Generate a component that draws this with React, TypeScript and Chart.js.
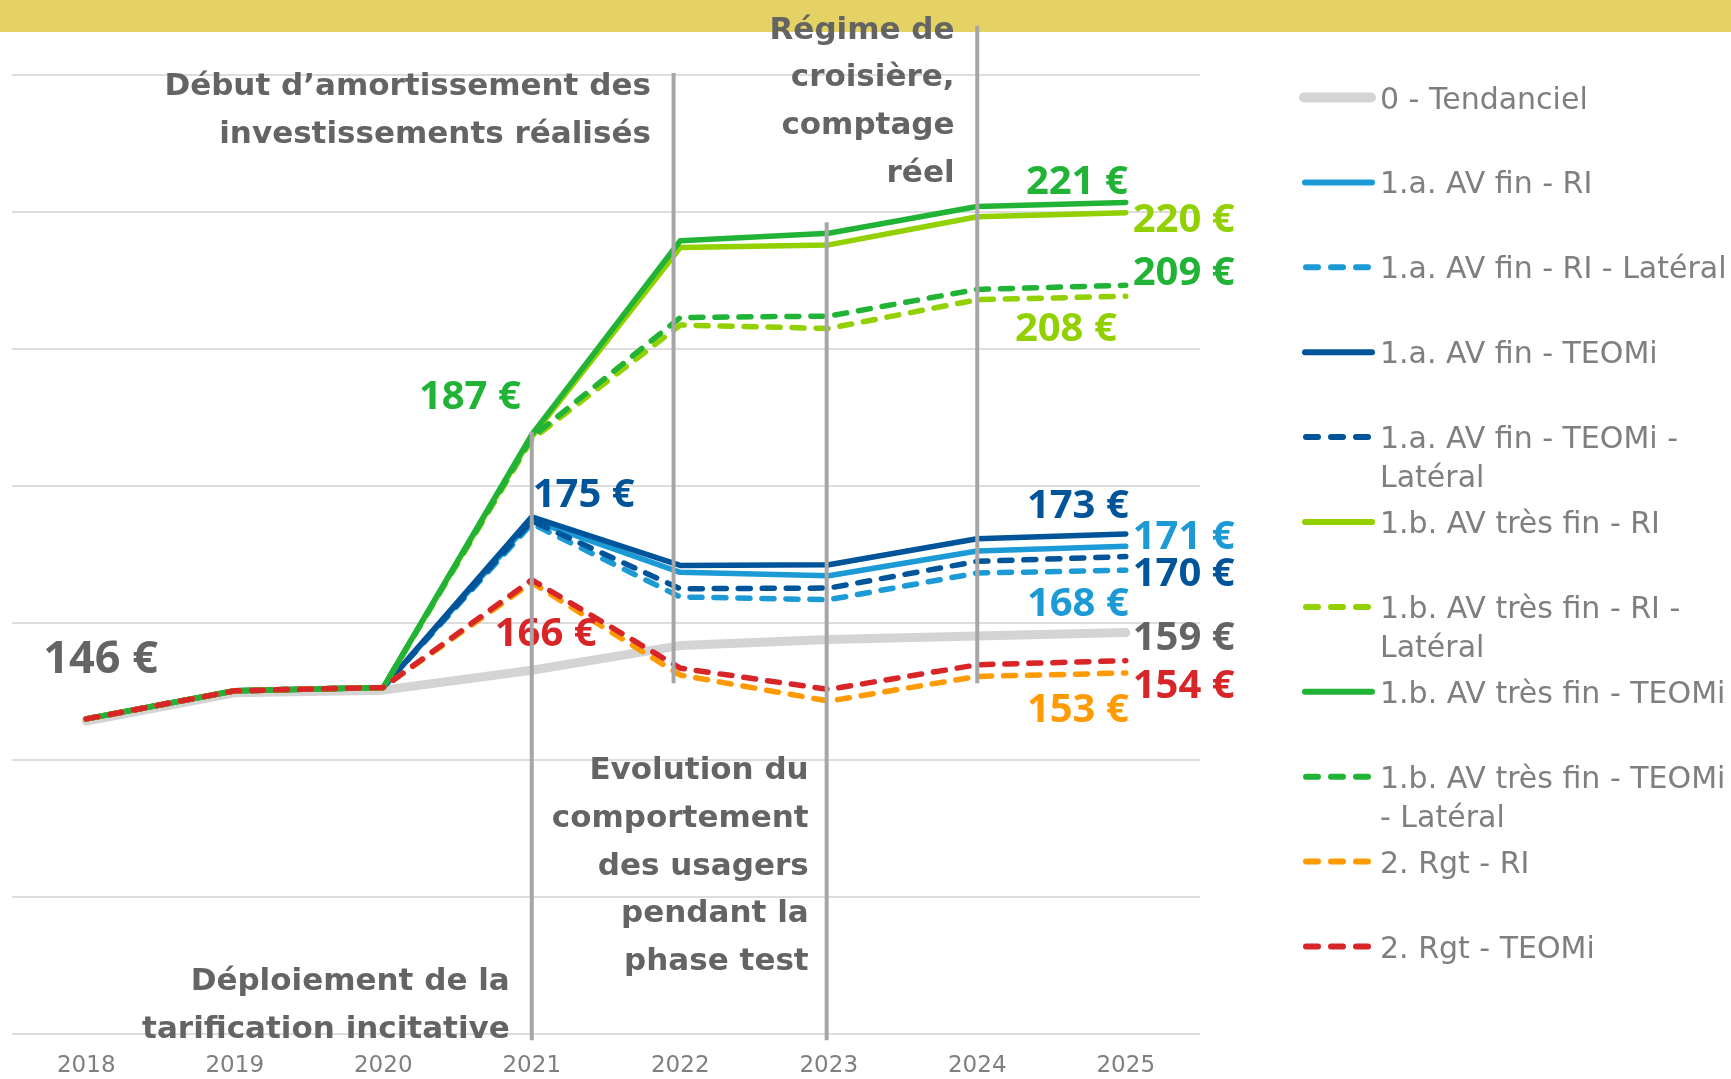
import React, { useEffect, useRef } from 'react';
import { Chart, registerables } from 'chart.js';

Chart.register(...registerables);

// ---------- DATA ----------
const years = ['2018', '2019', '2020', '2021', '2022', '2023', '2024', '2025'];

const tendanciel = [145.7, 149.8, 150.2, 153.1, 156.7, 157.6, 158.1, 158.6];
const avFinRI = [146, 150.1, 150.6, 175.0, 167.4, 166.9, 170.5, 171.2];
const avFinRILat = [146, 150.1, 150.6, 174.5, 163.8, 163.4, 167.3, 167.7];
const avFinTEOMi = [146, 150.1, 150.6, 175.5, 168.4, 168.5, 172.3, 173.0];
const avFinTEOMiLat = [146, 150.1, 150.6, 174.9, 165.0, 165.1, 169.0, 169.7];
const avTresFinRI = [146, 150.1, 150.6, 187.2, 214.8, 215.2, 219.3, 219.9];
const avTresFinRILat = [146, 150.1, 150.6, 186.8, 203.5, 203.0, 207.2, 207.7];
const avTresFinTEOMi = [146, 150.1, 150.6, 187.5, 215.8, 216.9, 220.8, 221.4];
const avTresFinTEOMiLat = [146, 150.1, 150.6, 187.1, 204.6, 204.8, 208.7, 209.3];
const rgtRI = [146, 150.1, 150.6, 165.9, 152.4, 148.6, 152.2, 152.7];
const rgtTEOMi = [146, 150.1, 150.6, 166.3, 153.4, 150.3, 153.9, 154.5];

const seriesData = [
  tendanciel, avFinRI, avFinRILat, avFinTEOMi, avFinTEOMiLat,
  avTresFinRI, avTresFinRILat, avTresFinTEOMi, avTresFinTEOMiLat, rgtRI, rgtTEOMi,
];
const seriesNames = [
  '0 - Tendanciel',
  '1.a. AV fin - RI',
  '1.a. AV fin - RI - Latéral',
  '1.a. AV fin - TEOMi',
  '1.a. AV fin - TEOMi - Latéral',
  '1.b. AV très fin - RI',
  '1.b. AV très fin - RI - Latéral',
  '1.b. AV très fin - TEOMi',
  '1.b. AV très fin - TEOMi - Latéral',
  '2. Rgt - RI',
  '2. Rgt - TEOMi',
];
// legend text as wrapped in the reference
const legendLines = [
  ['0 - Tendanciel'],
  ['1.a. AV fin - RI'],
  ['1.a. AV fin - RI - Latéral'],
  ['1.a. AV fin - TEOMi'],
  ['1.a. AV fin - TEOMi -', 'Latéral'],
  ['1.b. AV très fin - RI'],
  ['1.b. AV très fin - RI -', 'Latéral'],
  ['1.b. AV très fin - TEOMi'],
  ['1.b. AV très fin - TEOMi', '- Latéral'],
  ['2. Rgt - RI'],
  ['2. Rgt - TEOMi'],
];
const seriesColors = [
  '#D4D4D4', '#1B9AD6', '#1B9AD6', '#00549A', '#00549A',
  '#92D000', '#92D000', '#20B335', '#20B335', '#FF9A00', '#D72528',
];
const seriesDashed = [false, false, true, false, true, false, true, false, true, true, true];

const yMin = 100;
const yMax = 240;
const yStep = 20;

// value labels: text, series, year index, alignment, offsets from the point
const valueLabels = [
  { text: '146 €', s: 0, i: 0, align: 'left', dx: -43, dy: -64, size: 45, color: '#646464' },
  { text: '187 €', s: 7, i: 3, align: 'right', dx: -11, dy: -40, size: 40, color: '#20B335' },
  { text: '175 €', s: 3, i: 3, align: 'left', dx: 1, dy: -24, size: 40, color: '#00549A' },
  { text: '166 €', s: 10, i: 3, align: 'left', dx: -37, dy: 52, size: 40, color: '#D72528' },
  { text: '221 €', s: 7, i: 7, align: 'right', dx: 2, dy: -23, size: 40, color: '#20B335' },
  { text: '220 €', s: 5, i: 7, align: 'left', dx: 7, dy: 5, size: 40, color: '#92D000' },
  { text: '209 €', s: 8, i: 7, align: 'left', dx: 7, dy: -15, size: 40, color: '#20B335' },
  { text: '208 €', s: 6, i: 7, align: 'right', dx: -9, dy: 30, size: 40, color: '#92D000' },
  { text: '173 €', s: 3, i: 7, align: 'right', dx: 3, dy: -30, size: 40, color: '#00549A' },
  { text: '171 €', s: 1, i: 7, align: 'left', dx: 7, dy: -12, size: 40, color: '#1B9AD6' },
  { text: '170 €', s: 4, i: 7, align: 'left', dx: 7, dy: 15, size: 40, color: '#00549A' },
  { text: '168 €', s: 2, i: 7, align: 'right', dx: 3, dy: 31, size: 40, color: '#1B9AD6' },
  { text: '159 €', s: 0, i: 7, align: 'left', dx: 7, dy: 3, size: 40, color: '#646464' },
  { text: '154 €', s: 10, i: 7, align: 'left', dx: 7, dy: 23, size: 40, color: '#D72528' },
  { text: '153 €', s: 9, i: 7, align: 'right', dx: 3, dy: 35, size: 40, color: '#FF9A00' },
];

// phase markers: position on the category axis, vertical extent in axis values
const markerAt = [3, 3.955, 4.986, 6.0];
const markerTop = [187.9, 240.3, 218.5, 247.2];
const markerBottom = [99.1, 151.2, 99.1, 151.2];

// annotation texts, attached to a marker, first baseline in axis values
const noteLines = [
  ['Début d’amortissement des', 'investissements réalisés'],
  ['Régime de', 'croisière,', 'comptage', 'réel'],
  ['Evolution du', 'comportement', 'des usagers', 'pendant la', 'phase test'],
  ['Déploiement de la', 'tarification incitative'],
];
const noteMarker = [1, 3, 2, 0];
const noteGap = [22.7, 22.7, 18, 22];
const noteFirstBaseline = [237.1, 245.3, 137.2, 106.4];

const W = 1731;
const H = 1079;

function drawLabel(ctx: CanvasRenderingContext2D, text: string, x: number, yCenter: number,
  align: CanvasTextAlign, font: string, size: number, capRatio: number, color: string) {
  ctx.save();
  ctx.font = font;
  ctx.fillStyle = color;
  ctx.textAlign = align;
  ctx.textBaseline = 'alphabetic';
  ctx.fillText(text, x, yCenter + (capRatio * size) / 2);
  ctx.restore();
}

const overlayPlugin = {
  id: 'overlay',
  beforeDraw(chart: any) {
    const ctx = chart.ctx as CanvasRenderingContext2D;
    ctx.save();
    ctx.fillStyle = '#E4D264';
    ctx.fillRect(0, 0, chart.width, 32);
    ctx.restore();
  },
  afterDatasetsDraw(chart: any) {
    const ctx = chart.ctx as CanvasRenderingContext2D;
    const xs = chart.scales.x;
    const ys = chart.scales.y;

    // value labels
    valueLabels.forEach((l) => {
      const px = xs.getPixelForValue(l.i);
      const py = ys.getPixelForValue(seriesData[l.s][l.i]);
      drawLabel(ctx, l.text, px + l.dx, py + l.dy, l.align as CanvasTextAlign,
        `bold ${l.size}px "Open Sans"`, l.size, 0.714, l.color);
    });

    // phase markers
    ctx.save();
    ctx.strokeStyle = '#A6A6A6';
    ctx.lineWidth = 4;
    ctx.lineCap = 'butt';
    markerAt.forEach((m, k) => {
      const px = xs.getPixelForValue(m);
      ctx.beginPath();
      ctx.moveTo(px, ys.getPixelForValue(markerTop[k]));
      ctx.lineTo(px, ys.getPixelForValue(markerBottom[k]));
      ctx.stroke();
    });
    ctx.restore();

    // annotation notes
    noteLines.forEach((lines, k) => {
      const right = xs.getPixelForValue(markerAt[noteMarker[k]]) - noteGap[k];
      const first = ys.getPixelForValue(noteFirstBaseline[k]);
      ctx.save();
      ctx.font = 'bold 31px "DejaVu Sans"';
      ctx.fillStyle = '#646464';
      ctx.textAlign = 'right';
      ctx.textBaseline = 'alphabetic';
      lines.forEach((t, j) => ctx.fillText(t, right, first + j * 47.7));
      ctx.restore();
    });
  },
  afterDraw(chart: any) {
    // legend
    const ctx = chart.ctx as CanvasRenderingContext2D;
    const top = 97.5;
    const step = 84.9;
    ctx.save();
    seriesNames.forEach((_, k) => {
      const y = top + k * step;
      ctx.save();
      ctx.strokeStyle = seriesColors[k];
      ctx.lineCap = 'round';
      if (k === 0) {
        ctx.lineWidth = 10;
        ctx.beginPath();
        ctx.moveTo(1304, y);
        ctx.lineTo(1371, y);
        ctx.stroke();
      } else if (seriesDashed[k]) {
        ctx.lineWidth = 6;
        ctx.setLineDash([12, 13]);
        ctx.beginPath();
        ctx.moveTo(1306, y);
        ctx.lineTo(1369, y);
        ctx.stroke();
      } else {
        ctx.lineWidth = 6;
        ctx.beginPath();
        ctx.moveTo(1305, y);
        ctx.lineTo(1372, y);
        ctx.stroke();
      }
      ctx.restore();
      ctx.font = '30px "DejaVu Sans"';
      ctx.fillStyle = '#7F7F7F';
      ctx.textAlign = 'left';
      ctx.textBaseline = 'alphabetic';
      legendLines[k].forEach((t, j) => ctx.fillText(t, 1380, y + 11 + j * 39.3));
    });
    ctx.restore();
  },
};

export default function App() {
  const ref = useRef<HTMLCanvasElement | null>(null);

  useEffect(() => {
    const canvas = ref.current;
    if (!canvas) return;
    const order = seriesData.map((_, k) => -k);
    const chart = new Chart(canvas, {
      type: 'line',
      data: {
        labels: years,
        datasets: seriesData.map((d, k) => ({
          label: seriesNames[k],
          data: d,
          borderColor: seriesColors[k],
          backgroundColor: seriesColors[k],
          borderWidth: k === 0 ? 9 : 5.5,
          borderDash: seriesDashed[k] ? [12, 12] : [],
          borderCapStyle: 'round',
          borderJoinStyle: 'round',
          pointRadius: 0,
          pointHoverRadius: 0,
          tension: 0,
          fill: false,
          order: order[k],
        })),
      },
      options: {
        responsive: false,
        animation: false,
        devicePixelRatio: 1,
        events: [],
        layout: { padding: { left: 12, right: W - 1200, top: 75, bottom: 0 } },
        plugins: {
          legend: { display: false },
          tooltip: { enabled: false },
          title: { display: false },
        },
        scales: {
          x: {
            type: 'category',
            offset: true,
            grid: { display: false, drawTicks: false },
            border: { display: false },
            ticks: {
              color: '#7F7F7F',
              font: { family: '"DejaVu Sans"', size: 23 },
              padding: 18,
              maxRotation: 0,
            },
            afterFit: (s: any) => { s.height = 45; },
          },
          y: {
            min: yMin,
            max: yMax,
            ticks: { display: false, stepSize: yStep },
            grid: { color: '#DDDDDD', lineWidth: 2, drawTicks: false },
            border: { display: false },
            afterFit: (s: any) => { s.width = 0; },
          },
        },
      },
      plugins: [overlayPlugin],
    });
    const fontsToLoad = ['bold 40px "Open Sans"', 'bold 31px "DejaVu Sans"', '30px "DejaVu Sans"'];
    Promise.all(fontsToLoad.map((f) => (document as any).fonts.load(f))).then(() => {
      try { chart.draw(); } catch (e) { /* ignore */ }
    }).catch(() => {});
    return () => chart.destroy();
  }, []);

  return (
    <div style={{ position: 'fixed', left: 0, top: 0, width: W, height: H, background: '#ffffff' }}>
      <canvas ref={ref} width={W} height={H} style={{ display: 'block', width: W, height: H }} />
    </div>
  );
}
